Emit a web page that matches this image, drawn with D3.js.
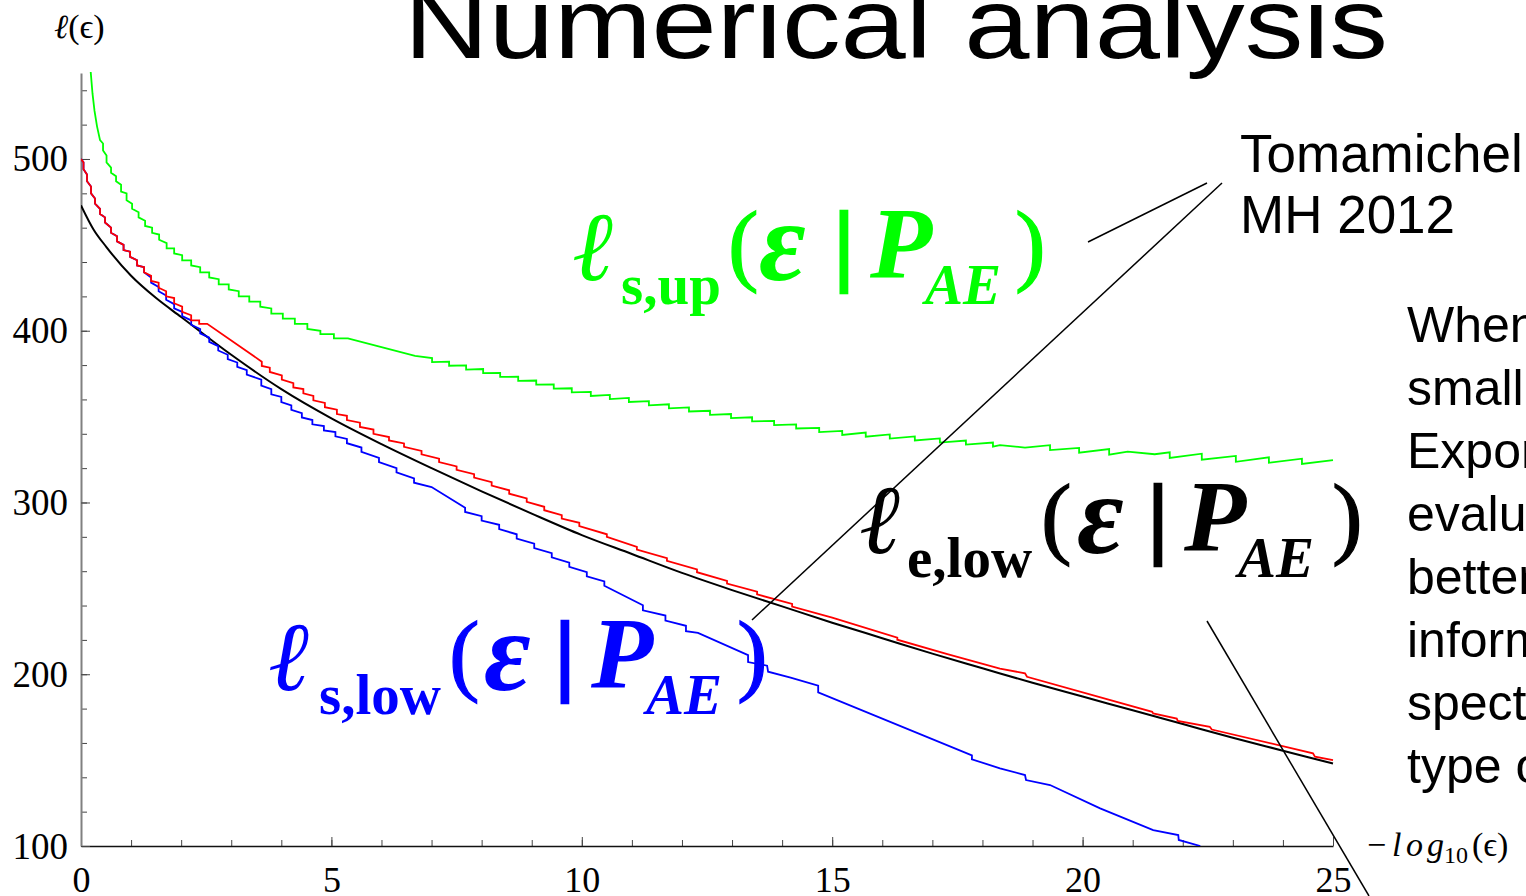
<!DOCTYPE html>
<html><head><meta charset="utf-8">
<script src="https://cdn.jsdelivr.net/npm/d3@7"></script>
<style>
html,body{margin:0;padding:0;background:#fff;overflow:hidden}
svg{display:block}
</style></head><body>
<svg id="chart" width="1526" height="896"></svg>
<script>
// ---------- data ----------
const xTicksMajor = [0, 5, 10, 15, 20, 25];
const yTicksMajor = [100, 200, 300, 400, 500];
const xMinorStep = 1;
const yMinorStep = 20;

// l_e,low (black, smooth)
const eLow = [[0,473],[0.25,459],[0.5,449],[1,432],[1.5,419],[2,408],[3,386],[4,366],[5,349],[6,334],[7,320],[8,306.5],[9,293.5],[10,281],[11,270],[12,259],[13,249],[14,239.5],[15,230],[16,221],[17,212],[18,203.5],[19,195],[20,187],[21,179],[22,171],[23,163],[24,155.5],[25,148]];

// l_s,low (blue, staircase)
const sLow = [[0,500],[0.05,498],[0.05,494],[0.12,491],[0.12,487],[0.2,484],[0.2,480],[0.28,477],[0.28,474],[0.38,471],[0.38,468],[0.48,466],[0.48,463],[0.6,460],[0.6,457],[0.72,455],[0.72,452],[0.85,450],[0.85,447],[0.98,446],[0.98,443],[1.12,441],[1.12,438],[1.26,437],[1.26,434],[1.4,431],[1.4,428],[1.55,425.5],[1.55,423],[1.7,420.5],[1.7,418],[1.86,415.5],[1.86,413],[2.02,411],[2.02,408.5],[2.2,406],[2.2,403.5],[2.38,401],[2.38,398.5],[2.56,396],[2.56,393.5],[2.74,391],[2.74,388.5],[2.93,386],[2.93,383.5],[3.12,381.5],[3.12,379],[3.31,377],[3.31,374.5],[3.6,371.5],[3.6,368],[3.8,366],[3.8,363],[4.0,361.5],[4.0,358.5],[4.2,356.5],[4.2,354],[4.41,352],[4.41,349.5],[4.62,348],[4.62,345.5],[4.85,344.5],[4.85,342],[5.08,341],[5.08,338.5],[5.31,337],[5.31,334.5],[5.6,332],[5.6,329.5],[5.95,326],[5.95,323.5],[6.3,320],[6.3,317.5],[6.65,314],[6.65,311.5],[7.0,309],[7.67,297],[7.67,294.5],[8.0,292],[8.0,289.5],[8.35,287],[8.35,284.5],[8.7,281.5],[8.7,279],[9.05,276],[9.05,273.5],[9.4,270.5],[9.4,268],[9.75,265],[9.75,262.5],[10.1,259.5],[10.1,257],[10.45,254],[10.45,251.5],[11.22,240.2],[11.22,237.2],[11.67,234.2],[11.67,231.2],[12.08,228.2],[12.08,225.1],[12.32,224.1],[13.32,211.1],[13.32,207.1],[13.7,205],[13.72,201.5],[14.17,198],[14.72,193.3],[14.72,189.4],[17.79,152.8],[17.79,150.5],[18.35,145.2],[18.85,141.3],[18.87,138.4],[19.35,135.5],[20.35,121.9],[21.41,109.3],[21.91,106.4],[21.92,103.5],[22.35,100]];

// red staircase
const sRed = [[0,500],[0.05,498],[0.05,494],[0.12,491],[0.12,487],[0.2,484],[0.2,480],[0.28,477],[0.28,474],[0.38,471],[0.38,468],[0.48,466],[0.48,463],[0.6,460],[0.6,457],[0.72,455],[0.72,452],[0.85,450],[0.85,447],[0.98,446],[0.98,443],[1.12,441],[1.12,438],[1.26,437],[1.26,434],[1.4,432],[1.4,429],[1.55,428],[1.55,425],[1.7,423],[1.7,420],[1.86,419],[1.86,416],[2.02,414],[2.02,411],[2.2,409],[2.2,406],[2.36,406],[2.36,404],[2.52,404],[3.61,382],[3.61,379.5],[3.77,378.5],[3.77,376],[4.01,374],[4.01,371.5],[4.24,369.5],[4.24,367],[4.44,366],[4.44,363.5],[4.64,362],[4.64,359.5],[4.87,358],[4.87,355.5],[5.11,354],[5.11,351.5],[5.31,350.5],[5.31,348],[5.57,346.5],[5.57,344],[5.84,342.5],[5.84,340],[6.15,338.1],[6.15,336.1],[6.45,334.4],[6.45,332.4],[6.8,330],[6.8,328],[7.15,325.5],[7.15,323.5],[7.5,321],[7.5,319],[7.85,316.5],[7.85,314.5],[8.2,311.8],[8.2,309.8],[8.55,307.1],[8.55,305.1],[8.9,302.4],[8.9,300.4],[9.25,297.5],[9.25,295.5],[9.6,292.6],[9.6,290.6],[9.95,288.2],[9.95,286.2],[10.5,281.5],[10.5,280],[11.1,274.2],[11.1,272.6],[11.7,267.6],[11.7,266],[12.3,261],[12.3,259.4],[12.9,254.4],[12.9,252.8],[13.5,248.1],[13.5,246.5],[14.2,241],[14.2,239.4],[15,233],[16.3,221.3],[16.3,220.1],[17.3,211.7],[18.35,203.3],[18.85,200.5],[18.89,198.5],[21.39,178.1],[21.41,177.2],[21.88,174.2],[21.9,172.8],[22.54,169.4],[22.58,167.8],[24.6,154],[24.64,152],[25,150]];

// l_s,up (green, sawtooth)
const sUp = [[0.19,552],[0.23,538],[0.27,528],[0.32,519],[0.38,511],[0.44,509],[0.44,505],[0.51,502],[0.51,498],[0.6,495],[0.6,492],[0.7,490],[0.7,487],[0.8,485],[0.8,481],[0.91,480],[0.91,476],[1.02,474],[1.02,471],[1.15,469],[1.15,466],[1.28,464],[1.28,461],[1.42,460],[1.42,457],[1.56,456],[1.56,453],[1.71,451],[1.71,448],[1.86,448],[1.86,445],[2.02,444],[2.02,441],[2.2,441],[2.2,438],[2.38,437],[2.38,434],[2.56,434],[2.56,431],[2.75,430],[2.75,427],[2.95,427],[2.95,424],[3.15,423],[3.15,420],[3.36,420],[3.36,417],[3.58,417],[3.58,414],[3.8,413],[3.8,410],[4.03,410],[4.03,407],[4.27,407],[4.27,404],[4.52,404],[4.52,401],[4.78,400],[4.78,398],[5.05,398],[5.05,395.5],[5.33,395.5],[6.0,390.5],[6.67,385.3],[7.01,384.1],[7.01,381.7],[7.35,382.0],[7.35,379.6],[7.69,379.8],[7.69,377.4],[8.03,377.7],[8.03,375.3],[8.37,375.5],[8.37,373.1],[8.73,373.2],[8.73,370.8],[9.09,371.0],[9.09,368.6],[9.44,368.7],[9.44,366.3],[9.80,366.5],[9.80,364.1],[10.18,364.4],[10.18,362.0],[10.56,362.6],[10.56,360.2],[10.94,360.9],[10.94,358.5],[11.34,359.0],[11.34,356.6],[11.74,357.2],[11.74,354.8],[12.14,355.4],[12.14,353.0],[12.56,353.4],[12.56,351.0],[12.98,351.5],[12.98,349.1],[13.40,349.6],[13.40,347.2],[13.84,347.5],[13.84,345.1],[14.28,345.5],[14.28,343.1],[14.74,343.4],[14.74,341.0],[15.20,341.7],[15.20,339.3],[15.67,340.7],[15.67,338.3],[16.15,339.6],[16.15,337.2],[16.65,338.5],[16.65,336.1],[17.15,337.3],[17.15,334.9],[17.67,336.1],[17.67,333.7],[18.21,334.9],[18.21,332.5],[18.35,333.4],[18.85,332.0],[19.35,333.4],[19.35,330.5],[19.93,331.8],[19.93,329.0],[20.53,331.1],[20.53,327.8],[20.9,329.6],[21.44,328.1],[21.74,329.2],[21.74,325.9],[22.38,328.4],[22.38,324.9],[23.06,327.1],[23.06,323.7],[23.72,326.3],[23.72,323.1],[24.38,325.5],[24.38,322.4],[25,324.7]];

const sideNote = ["When \u03b5 is", "small, the", "Exponential", "evaluation is", "better than", "information", "spectrum", "type of"];

// ---------- drawing ----------
const svg = d3.select('#chart');
const W = 1526, H = 896;
const x = d3.scaleLinear().domain([0, 25]).range([81, 1333]);
const y = d3.scaleLinear().domain([100, 550]).range([846, 73.1]);
const serif = "'Liberation Serif','Times New Roman','DejaVu Serif',serif";
const sans = "'Liberation Sans',Arial,Helvetica,sans-serif";

svg.append('rect').attr('width', W).attr('height', H).attr('fill', '#fff');

// title
svg.append('text').attr('x', 404).attr('y', 58)
  .attr('font-family', sans).attr('font-size', 100)
  .attr('textLength', 984).attr('lengthAdjust', 'spacingAndGlyphs')
  .attr('fill', '#000').text('Numerical analysis');

// axes
const minorX = d3.range(0, 25.001, xMinorStep);
const minorY = d3.range(100, 550, yMinorStep);
const gxm = svg.append('g').attr('transform', 'translate(0,846)')
  .call(d3.axisBottom(x).tickValues(minorX).tickSize(-6).tickSizeOuter(0).tickFormat(''));
gxm.select('.domain').remove();
const gx = svg.append('g').attr('transform', 'translate(0,846)')
  .call(d3.axisBottom(x).tickValues(xTicksMajor).tickSize(-9).tickSizeOuter(0).tickPadding(0));
gx.select('.domain').attr('stroke', '#111').attr('stroke-width', 1.6);
svg.selectAll('.tick line').attr('stroke', '#444').attr('stroke-width', 1);
gx.selectAll('text').attr('font-family', serif).attr('font-size', 36).attr('fill', '#000')
  .attr('dy', null).attr('y', 46);

const gym = svg.append('g').attr('transform', 'translate(81,0)')
  .call(d3.axisLeft(y).tickValues(minorY).tickSize(-6).tickSizeOuter(0).tickFormat(''));
gym.select('.domain').remove();
const gy = svg.append('g').attr('transform', 'translate(81,0)')
  .call(d3.axisLeft(y).tickValues(yTicksMajor).tickSize(-9).tickSizeOuter(0).tickPadding(13));
gy.select('.domain').attr('stroke', '#808080').attr('stroke-width', 2);
gym.selectAll('.tick line').attr('stroke', '#444');
gy.selectAll('.tick line').attr('stroke', '#444');
gy.selectAll('text').attr('font-family', serif).attr('font-size', 37).attr('fill', '#000')
  .attr('dy', null).attr('y', 12);

// axis labels
const yl = svg.append('text').attr('x', 54).attr('y', 38).attr('font-family', serif).attr('font-size', 34).attr('fill', '#000');
yl.append('tspan').attr('font-style', 'italic').text('\u2113');
yl.append('tspan').text('(\u03f5)');

const xl = svg.append('text').attr('y', 856).attr('font-family', serif).attr('font-size', 34).attr('fill', '#000');
xl.append('tspan').attr('x', 1367).text('\u2212');
xl.append('tspan').attr('x', 1392).attr('font-style', 'italic').text('l');
xl.append('tspan').attr('x', 1406).attr('font-style', 'italic').text('o');
xl.append('tspan').attr('x', 1427).attr('font-style', 'italic').text('g');
xl.append('tspan').attr('x', 1444).attr('dy', 7).attr('font-size', 24).text('10');
xl.append('tspan').attr('x', 1472).attr('dy', -7).text('(\u03f5)');

// clip
svg.append('clipPath').attr('id', 'plotclip').append('rect')
  .attr('x', 81).attr('y', 72).attr('width', 1333 - 81 + 2).attr('height', 846 - 72);

const line = d3.line().x(d => x(d[0])).y(d => y(d[1]));
const smooth = d3.line().x(d => x(d[0])).y(d => y(d[1])).curve(d3.curveMonotoneX);
const plot = svg.append('g').attr('clip-path', 'url(#plotclip)');
plot.append('path').datum(eLow).attr('d', smooth).attr('fill', 'none').attr('stroke', '#000').attr('stroke-width', 2);
plot.append('path').datum(sLow).attr('d', line).attr('fill', 'none').attr('stroke', '#0000ff').attr('stroke-width', 1.8);
plot.append('path').datum(sRed).attr('d', line).attr('fill', 'none').attr('stroke', '#ff0000').attr('stroke-width', 1.8);
plot.append('path').datum(sUp).attr('d', line).attr('fill', 'none').attr('stroke', '#00ff00').attr('stroke-width', 1.8);

// math labels
function mathLabel(p, color, sub) {
  const g = svg.append('g').attr('fill', color).attr('font-family', serif);
  g.append('text').attr('x', p.ell).attr('y', p.base + 2).attr('font-size', 98).attr('font-style', 'italic').text('\u2113');
  g.append('text').attr('x', p.sub).attr('y', p.base + 26).attr('font-size', 57).attr('font-weight', 'bold').text(sub);
  g.append('text').attr('x', p.lp).attr('y', p.base - 4).attr('font-size', 92)
    .attr('stroke', color).attr('stroke-width', 1.2).text('(');
  g.append('text').attr('x', p.eps).attr('y', p.base + 2).attr('font-size', 114).attr('font-weight', 'bold').attr('font-style', 'italic').text('\u03b5');
  g.append('text').attr('x', p.bar).attr('y', p.base - 4).attr('font-size', 90).attr('font-weight', 'bold')
    .attr('stroke', color).attr('stroke-width', 2.5).text('|');
  g.append('text').attr('x', p.P).attr('y', p.base).attr('font-size', 102).attr('font-weight', 'bold').attr('font-style', 'italic').text('P');
  g.append('text').attr('x', p.AE).attr('y', p.base + 26).attr('font-size', 57).attr('font-weight', 'bold').attr('font-style', 'italic').text('AE');
  g.append('text').attr('x', p.rp).attr('y', p.base - 4).attr('font-size', 92)
    .attr('stroke', color).attr('stroke-width', 1.2).text(')');
}
mathLabel({ell:572, sub:621, lp:728, eps:759, bar:834, P:870, AE:925, rp:1015, base:278}, '#00ff00', 's,up');
mathLabel({ell:268, sub:319, lp:449, eps:484, bar:555, P:591, AE:646, rp:737, base:688}, '#0000ff', 's,low');
mathLabel({ell:859, sub:907, lp:1041, eps:1077, bar:1148, P:1184, AE:1238, rp:1332, base:551}, '#000', 'e,low');

// annotation text
const tm = svg.append('text').attr('font-family', sans).attr('font-size', 53).attr('fill', '#000');
tm.append('tspan').attr('x', 1240).attr('y', 172).text('Tomamichel');
tm.append('tspan').attr('x', 1240).attr('y', 233).text('MH 2012');

const note = svg.append('text').attr('font-family', sans).attr('font-size', 50).attr('fill', '#000');
sideNote.forEach((s, i) => note.append('tspan').attr('x', 1407).attr('y', 342 + i * 63).text(s));

// annotation pointer lines
const ann = svg.append('g').attr('stroke', '#000').attr('stroke-width', 1.5);
ann.append('line').attr('x1', 1088).attr('y1', 242).attr('x2', 1207).attr('y2', 183);
ann.append('line').attr('x1', 752).attr('y1', 620).attr('x2', 1222).attr('y2', 183);
ann.append('line').attr('x1', 1207).attr('y1', 621).attr('x2', 1369).attr('y2', 896);
</script>
</body></html>
